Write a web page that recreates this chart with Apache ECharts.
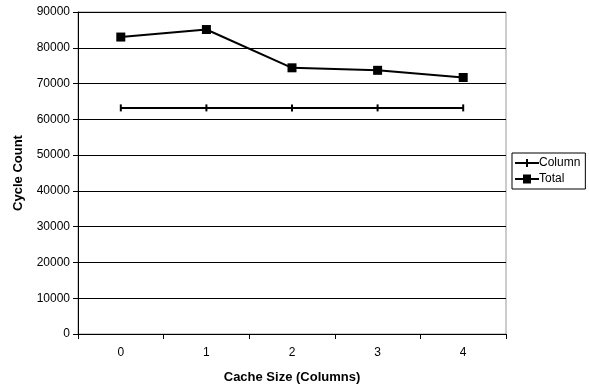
<!DOCTYPE html>
<html><head><meta charset="utf-8">
<script src="https://cdn.jsdelivr.net/npm/echarts@6/dist/echarts.min.js"></script>
<style>html,body{margin:0;padding:0;background:#fff}#c{width:589px;height:390px}</style>
</head><body><div id="c"></div>
<script>
var categories = ['0','1','2','3','4'];
var columnValues = [63200, 63200, 63200, 63200, 63200];
var totalValues = [83000, 85100, 74400, 73700, 71700];
var yTicks = [0,10000,20000,30000,40000,50000,60000,70000,80000,90000];

var chart = echarts.init(document.getElementById('c'));
var font = 'Liberation Sans, Arial, sans-serif';
chart.setOption({
  animation: false,
  backgroundColor: '#fff',
  grid: {left: 78, top: 12, width: 428, height: 322, outerBoundsMode: 'none', containLabel: false,
         show: true, borderColor: '#999', borderWidth: 1, backgroundColor: 'transparent'},
  legend: {
    orient: 'vertical', left: 512, top: 153, padding: [4, 5, 4, 3],
    borderColor: '#000', borderWidth: 1, itemGap: 4, itemWidth: 24, itemHeight: 9,
    textStyle: {fontFamily: font, fontSize: 12, color: '#000', padding: [0,0,0,-5]},
    data: [
      {name: 'Column', icon: 'path://M0,4 L24,4 L24,6 L0,6 Z M11,1 L13,1 L13,9 L11,9 Z'},
      {name: 'Total', icon: 'path://M0,4 L24,4 L24,6 L0,6 Z M8,0.5 L16,0.5 L16,9.5 L8,9.5 Z'}
    ]
  },
  xAxis: {
    type: 'category', data: categories, boundaryGap: true,
    name: 'Cache Size (Columns)', nameLocation: 'middle', nameGap: 37,
    nameTextStyle: {fontFamily: font, fontSize: 13, fontWeight: 'bold', color: '#000'},
    axisLine: {lineStyle: {color: '#000', width: 1}},
    axisTick: {show: true, length: 5, lineStyle: {color: '#000'}},
    axisLabel: {fontFamily: font, fontSize: 12, color: '#000', margin: 13},
    splitLine: {show: false}
  },
  yAxis: {
    type: 'value', min: 0, max: 90000, interval: 10000,
    name: 'Cycle Count', nameLocation: 'middle', nameGap: 53,
    nameTextStyle: {fontFamily: font, fontSize: 13, fontWeight: 'bold', color: '#000'},
    axisLine: {show: true, lineStyle: {color: '#000', width: 1}},
    axisTick: {show: true, length: 5, lineStyle: {color: '#000'}},
    axisLabel: {fontFamily: font, fontSize: 12, color: '#000', margin: 8, formatter: function(v){ return String(v); }},
    splitLine: {show: true, lineStyle: {color: '#000', width: 1}}
  },
  series: [
    {name: 'Column', type: 'line', data: columnValues, symbol: 'rect', symbolSize: [2, 7],
     lineStyle: {color: '#000', width: 2}, itemStyle: {color: '#000'}},
    {name: 'Total', type: 'line', data: totalValues, symbol: 'rect', symbolSize: 9,
     lineStyle: {color: '#000', width: 2}, itemStyle: {color: '#000'}}
  ]
});
</script></body></html>
